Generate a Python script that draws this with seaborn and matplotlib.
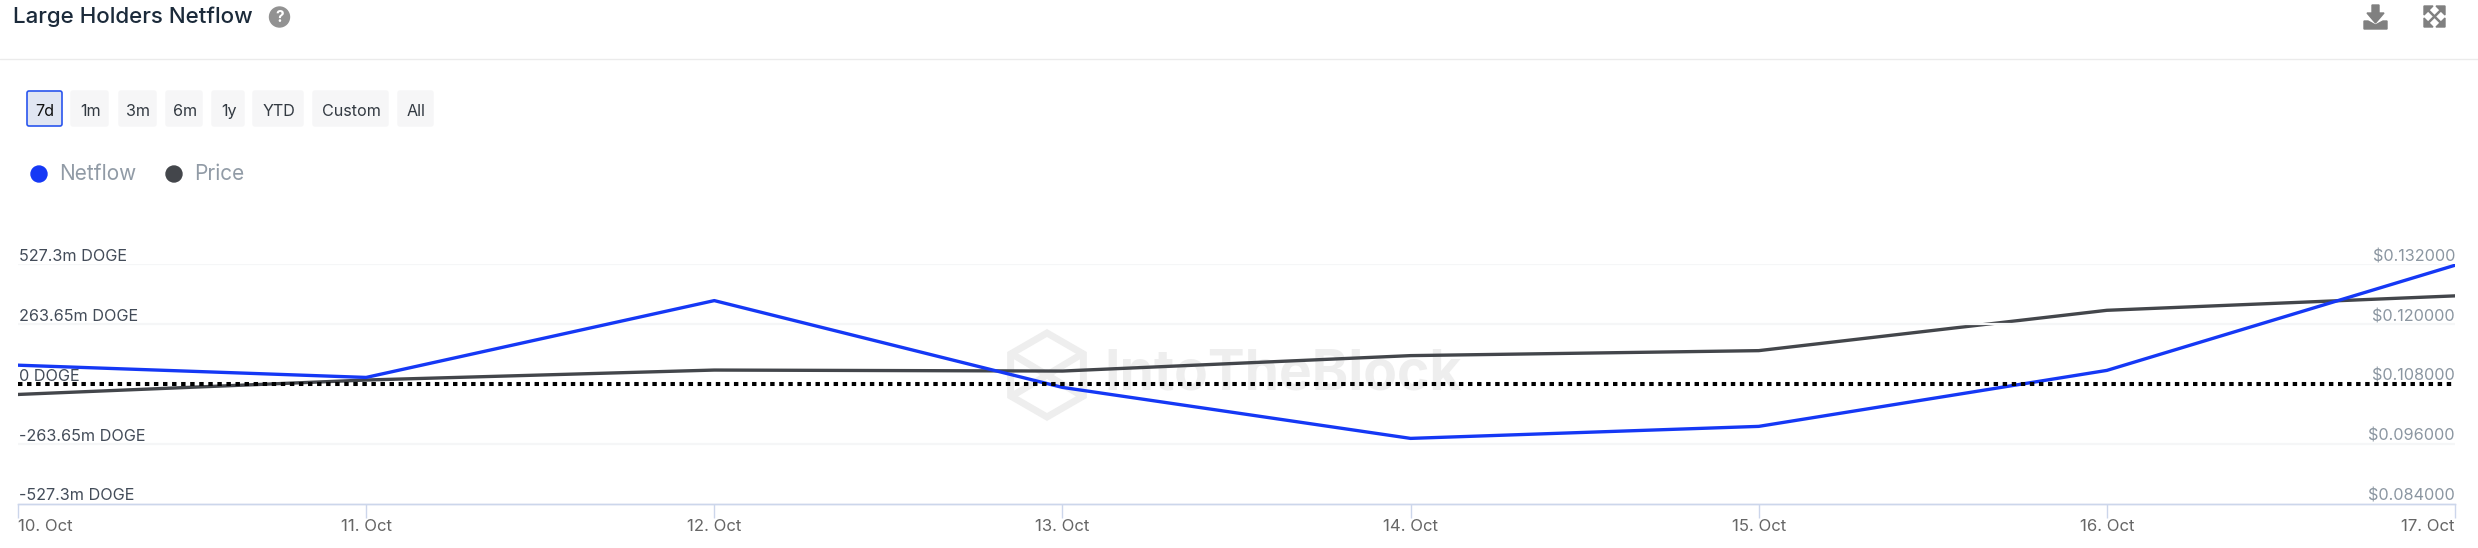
import matplotlib
matplotlib.use("Agg")
import matplotlib.dates as mdates
import matplotlib.pyplot as plt
import pandas as pd
import seaborn as sns
from matplotlib.patches import Circle, FancyBboxPatch, Polygon, RegularPolygon

# values
dates = pd.to_datetime(["2024-10-10", "2024-10-11", "2024-10-12", "2024-10-13",
                        "2024-10-14", "2024-10-15", "2024-10-16", "2024-10-17"])
netflow = [83, 29, 368, -15, -240, -187, 60, 524]
price = [0.1059, 0.1088, 0.1108, 0.1106, 0.1137, 0.1147, 0.1228, 0.1257]

netflow_ticks = [-527.3, -263.65, 0, 263.65, 527.3]
netflow_labels = ["-527.3m DOGE", "-263.65m DOGE", "0 DOGE", "263.65m DOGE", "527.3m DOGE"]
price_ticks = [0.084, 0.096, 0.108, 0.120, 0.132]
price_labels = ["$0.084000", "$0.096000", "$0.108000", "$0.120000", "$0.132000"]

range_labels = ["7d", "1m", "3m", "6m", "1y", "YTD", "Custom", "All"]
range_left = [26, 70, 118, 165, 211, 252, 312, 397]
range_right = [63, 109, 157, 203, 245, 304, 389, 434]

BLUE = "#1538f5"
DARK = "#43464b"
ICON = "#808080"
W, H = 2478, 548

sns.set_theme(style="white")
plt.rcParams["font.family"] = ["Inter", "DejaVu Sans"]

fig = plt.figure(figsize=(W / 100, H / 100), dpi=100, facecolor="white")

# page furniture is drawn in pixel coordinates on a full figure axes
bg = fig.add_axes([0, 0, 1, 1])
bg.set_xlim(0, W)
bg.set_ylim(H, 0)
bg.axis("off")

bg.text(13, 17, "Large Holders Netflow", fontsize=16.1, color="#1b2a3a", va="center", fontweight="medium")
bg.add_patch(Circle((279.5, 17), 10, color="#929292"))
bg.text(279.5, 17.5, "?", fontsize=11, color="white", ha="center", va="center", fontweight="bold")
bg.plot([0, W], [59, 59], color="#ebebeb", lw=1)

# download icon
bg.add_patch(Polygon([(2372, 5), (2379, 5), (2379, 13), (2384, 13), (2375.5, 23), (2367, 13), (2372, 13)], color=ICON))
bg.add_patch(Polygon([(2364, 21), (2368, 21), (2375.5, 25), (2383, 21), (2387, 21), (2387, 29), (2364, 29)], color=ICON))
# expand icon
bg.plot([2427, 2442], [9, 24], color=ICON, lw=1.8)
bg.plot([2442, 2427], [9, 24], color=ICON, lw=1.8)
bg.add_patch(Polygon([(2424, 6), (2433, 6), (2424, 15)], color=ICON))
bg.add_patch(Polygon([(2445, 6), (2436, 6), (2445, 15)], color=ICON))
bg.add_patch(Polygon([(2424, 27), (2433, 27), (2424, 18)], color=ICON))
bg.add_patch(Polygon([(2445, 27), (2436, 27), (2445, 18)], color=ICON))

# range buttons
for i, label in enumerate(range_labels):
    left, right = range_left[i], range_right[i]
    active = i == 0
    bg.add_patch(FancyBboxPatch((left + 1, 91), right - left - 2, 35, boxstyle="round,pad=0,rounding_size=2",
                                mutation_aspect=1, facecolor="#e1e6f2" if active else "#f6f6f7",
                                edgecolor="#2a55ee" if active else "#f6f6f7", lw=1.2 if active else 1))
    bg.text((left + right) / 2 + 0.7, 111.5, label, fontsize=11.6, ha="center", va="center",
            color="#111111" if active else "#333a42")

# legend
bg.add_patch(Circle((39, 174), 8, color=BLUE))
bg.text(59, 173.5, "Netflow", fontsize=15, color="#919ba6", va="center")
bg.add_patch(Circle((174, 174), 8, color=DARK))
bg.text(194.5, 173.5, "Price", fontsize=15, color="#919ba6", va="center")

# watermark
wm = "#eeeeee"
bg.add_patch(RegularPolygon((1047, 375), 6, radius=42, fill=False, edgecolor=wm, lw=5))
bg.plot([1012, 1047, 1082], [354, 375, 354], color=wm, lw=5)
bg.plot([1012, 1047, 1082], [396, 375, 396], color=wm, lw=5)
bg.text(1104, 375, "IntoTheBlock", fontsize=39.7, color=wm, fontweight="bold", va="center")

# chart area
left_px, right_px, top_px, bottom_px = 18, 2455, 264.5, 503.5
ax = fig.add_axes([left_px / W, 1 - bottom_px / H, (right_px - left_px) / W, (bottom_px - top_px) / H])
ax.patch.set_alpha(0)
ax2 = ax.twinx()

sns.lineplot(x=dates, y=price, ax=ax2, color=DARK, linewidth=2.4, legend=False)
sns.lineplot(x=dates, y=netflow, ax=ax, color=BLUE, linewidth=2.4, legend=False)
ax.set_zorder(ax2.get_zorder() + 1)
ax.axhline(0, color="black", lw=2.9, linestyle=(0, (1.1, 1.15)), zorder=3)

ax.set_xlim(dates[0], dates[-1])
ax.set_ylim(netflow_ticks[0], netflow_ticks[-1])
ax2.set_ylim(price_ticks[0], price_ticks[-1])
ax.set_xlabel("")
ax.set_ylabel("")
ax2.set_ylabel("")

ax.set_yticks(netflow_ticks)
ax.set_yticklabels(netflow_labels)
ax2.set_yticks(price_ticks)
ax2.set_yticklabels(price_labels)
ax.tick_params(axis="y", length=0, pad=-1, labelsize=11.7, labelcolor="#434c59")
ax2.tick_params(axis="y", length=0, pad=0, labelsize=11.7, labelcolor="#8b96a1")
for lab in ax.get_yticklabels():
    lab.set_ha("left")
    lab.set_va("bottom")
for lab in ax2.get_yticklabels():
    lab.set_ha("right")
    lab.set_va("bottom")

for a in (ax, ax2):
    for name, spine in a.spines.items():
        spine.set_visible(name == "bottom")
        spine.set_color("#ccd6eb")
        spine.set_linewidth(1)

# grid only, the zero line is the dotted one
for v in netflow_ticks[1:]:
    if v != 0:
        ax.axhline(v, color="#f5f6f7", lw=1.6, zorder=0)

ax.xaxis.set_major_locator(mdates.DayLocator())
ax.xaxis.set_major_formatter(mdates.DateFormatter("%-d. %b"))
ax.tick_params(axis="x", bottom=True, length=10, width=1, color="#ccd6eb", pad=1, labelsize=12, labelcolor="#666666")
ticklabels = ax.get_xticklabels()
ticklabels[0].set_ha("left")
ticklabels[-1].set_ha("right")
ax2.xaxis.set_visible(False)

fig.savefig("out.png", dpi=100)
